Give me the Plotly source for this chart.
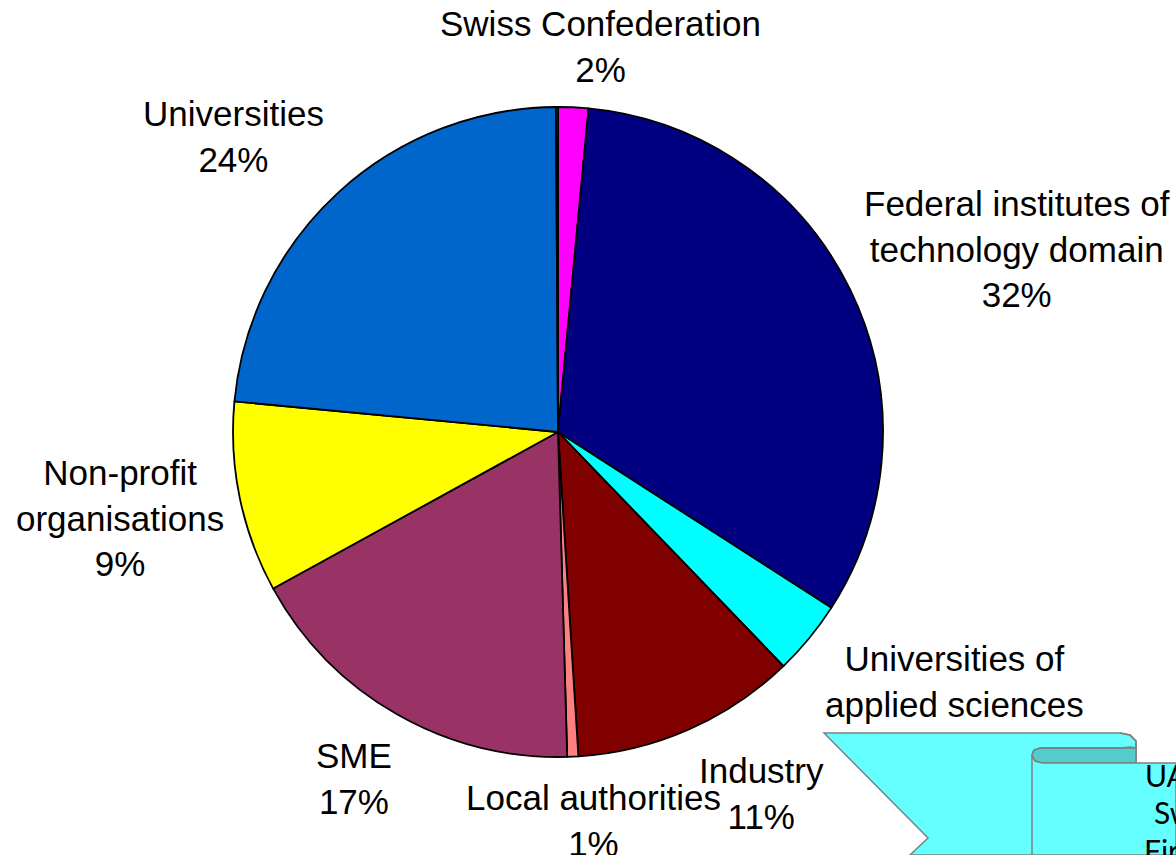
import plotly.graph_objects as go

W, H = 1176, 855

# slices clockwise from 12 o'clock
categories = [
    "Swiss Confederation",
    "Federal institutes of technology domain",
    "Universities of applied sciences",
    "Industry",
    "Local authorities",
    "SME",
    "Non-profit organisations",
    "Universities",
    "Other",
]
shares = [1.5, 32.6, 3.7, 11.2, 0.55, 17.45, 9.5, 23.4, 0.1]
label_texts = [
    "Swiss Confederation<br>2%",
    "Federal institutes of<br>technology domain<br>32%",
    "Universities of<br>applied sciences",
    "Industry<br>11%",
    "Local authorities<br>1%",
    "SME<br>17%",
    "Non-profit<br>organisations<br>9%",
    "Universities<br>24%",
    "",
]
colours = [
    "#FF00FF", "#000080", "#00FFFF", "#800000", "#FF8080",
    "#993366", "#FFFF00", "#0066CC", "#969696",
]

# label centres in pixels (x, y from top)
label_pos = [
    (600, 46), (1017, 249), (954, 681), (761, 793), (594, 820),
    (354, 778), (120, 518), (233, 137), None,
]


def px(x, y):
    return x / W, 1 - y / H


cx, cy, r = 558, 432, 325

fig = go.Figure(
    go.Pie(
        labels=categories,
        values=shares,
        sort=False,
        direction="clockwise",
        rotation=0,
        textinfo="none",
        hoverinfo="label+percent",
        marker=dict(colors=colours, line=dict(color="black", width=1.8)),
        domain=dict(
            x=[(cx - r) / W, (cx + r) / W],
            y=[1 - (cy + r) / H, 1 - (cy - r) / H],
        ),
        showlegend=False,
    )
)

for text, pos in zip(label_texts, label_pos):
    if pos is None:
        continue
    x, y = px(*pos)
    fig.add_annotation(
        x=x, y=y, xref="paper", yref="paper",
        text=text, showarrow=False,
        xanchor="center", yanchor="middle",
        font=dict(family="Liberation Sans, Arial", size=35, color="black"),
    )


def path(points, close=True):
    d = ""
    for i, (x, y) in enumerate(points):
        X, Y = px(x, y)
        d += ("M" if i == 0 else "L") + f"{X:.5f},{Y:.5f} "
    return d + ("Z" if close else "")


# ribbon callout in the bottom-right corner
ribbon_back = path([
    (824, 733), (1120, 733), (1130, 735), (1136, 741), (1136, 755),
    (1136, 855), (910, 855), (928, 838),
])
ribbon_fold = path([
    (1040, 748), (1136, 748), (1136, 763), (1040, 763),
    (1033, 760), (1032, 755), (1034, 750),
])
ribbon_front = path([
    (1032, 755), (1035, 761), (1042, 763), (1176, 763),
    (1176, 855), (1032, 855),
])
ribbon_curl = path([
    (1120, 733), (1130, 735), (1136, 741), (1136, 748),
    (1130, 747), (1120, 748), (1040, 748), (1034, 750), (1032, 755),
], close=False)
common = dict(type="path", xref="paper", yref="paper", layer="above")
fig.add_shape(path=ribbon_back, fillcolor="#66FFFF",
              line=dict(color="#808080", width=1.5), **common)
fig.add_shape(path=ribbon_fold, fillcolor="#52CCCC",
              line=dict(color="#808080", width=1.5), **common)
fig.add_shape(path=ribbon_front, fillcolor="#66FFFF",
              line=dict(color="#808080", width=1.5), **common)
fig.add_shape(path=ribbon_curl, line=dict(color="#808080", width=1.5), **common)

for text, (x, y) in zip(["UAS", "Swiss", "First"], [(1143, 775), (1152, 812), (1142, 850)]):
    X, Y = px(x, y)
    fig.add_annotation(
        x=X, y=Y, xref="paper", yref="paper", text=text, showarrow=False,
        xanchor="left", yanchor="middle",
        font=dict(family="Lato, Open Sans", size=30, color="black"),
    )

fig.update_layout(
    width=W,
    height=H,
    margin=dict(l=0, r=0, t=0, b=0),
    paper_bgcolor="white",
    plot_bgcolor="white",
)

fig.write_html(
    "out.html",
    config={"displayModeBar": False},
    post_script="document.body.style.margin='0';document.body.style.overflow='hidden';",
)
